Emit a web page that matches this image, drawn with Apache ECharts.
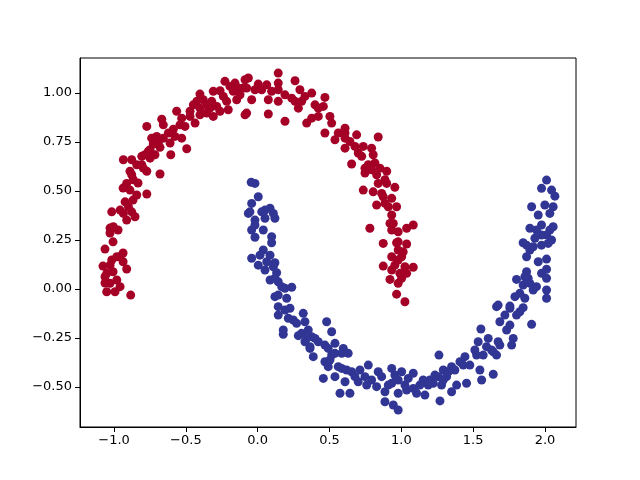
<!DOCTYPE html>
<html>
<head>
<meta charset="utf-8">
<script src="https://cdn.jsdelivr.net/npm/echarts@6/dist/echarts.min.js"></script>
<style>
  html, body { margin: 0; padding: 0; background: #fff; }
  #chart { width: 640px; height: 480px; }
</style>
</head>
<body>
<div id="chart"></div>
<script>
// upper moon (class 0)
var redMoon = [
  [-0.912,0.539],[-0.833,0.541],[-0.937,0.515],[-0.772,0.485],[-0.923,0.445],[-0.868,0.454],
  [-1.016,0.394],[-0.958,0.403],[-0.877,0.394],[-0.854,0.369],[-0.912,0.352],[-1.028,0.311],
  [-0.972,0.301],[-1.028,0.286],[-1.007,0.241],[-1.063,0.204],[-0.937,0.184],[-0.981,0.165],
  [-1.016,0.148],[-1.077,0.117],[-0.937,0.139],[-0.912,0.102],[-1.007,0.088],[-1.063,0.063],
  [-0.981,0.046],[-1.063,0.031],[-0.958,0.012],[-1.051,-0.014],[-0.993,-0.014],[-0.884,-0.031],
  [-0.889,0.505],[-0.842,0.480],[-0.900,0.420],[-0.935,0.386],[-1.005,0.318],[-0.958,0.165],
  [-1.028,0.122],[-1.051,0.080],[-1.028,0.029],
  [-0.228,1.060],[-0.158,1.051],[-0.088,1.068],[-0.100,1.026],[-0.309,1.009],[-0.262,1.012],
  [-0.402,0.995],[-0.170,1.009],[-0.123,0.991],[-0.379,0.966],[-0.320,0.958],[-0.216,0.958],
  [-0.146,0.966],[-0.448,0.940],[-0.402,0.923],[-0.285,0.932],[-0.262,0.907],[-0.205,0.915],
  [-0.088,0.889],[-0.564,0.907],[-0.471,0.907],[-0.355,0.898],[-0.309,0.881],[-0.529,0.872],
  [-0.668,0.867],[-0.436,0.847],[-0.506,0.830],[-0.772,0.830],[-0.657,0.838],[-0.587,0.816],
  [-0.703,0.779],[-0.657,0.770],[-0.529,0.770],[-0.576,0.779],[-0.727,0.740],[-0.610,0.745],
  [-0.494,0.716],[-0.749,0.711],[-0.680,0.723],[-0.784,0.685],[-0.715,0.685],[-0.605,0.685],
  [-0.935,0.660],[-0.877,0.660],[-0.807,0.634],[-0.749,0.668],[-0.772,0.601],[-0.680,0.587],
  [-0.877,0.583],[-0.866,0.558],
  [-0.424,0.958],[-0.355,0.940],[-0.239,0.983],[-0.193,1.034],[-0.135,1.026],[-0.471,0.881],
  [-0.402,0.889],[-0.332,0.923],[-0.541,0.838],[-0.622,0.796],[-0.692,0.745],[-0.738,0.770],
  [-0.761,0.703],[-0.807,0.677],[-0.796,0.617],[-0.842,0.634],[-0.889,0.601],
  [0.143,1.102],[-0.065,1.077],[0.004,1.046],[0.063,1.042],[0.143,1.051],[0.260,1.063],
  [-0.077,1.026],[-0.019,1.017],[0.097,1.009],[0.143,1.017],[0.294,1.017],[0.376,1.000],
  [0.074,0.966],[0.143,0.958],[-0.042,0.966],[0.237,0.974],[0.306,0.958],[0.468,0.978],
  [0.399,0.940],[0.457,0.932],[0.283,0.923],[-0.077,0.898],[0.074,0.893],[0.190,0.856],
  [0.341,0.847],[0.422,0.881],[0.503,0.881],[0.515,0.847],[0.468,0.796],[0.538,0.762],
  [0.608,0.821],[0.608,0.770],[0.689,0.787],[0.839,0.776],[0.608,0.719],[0.677,0.728],
  [0.735,0.728],[0.793,0.719],[0.804,0.685],[0.724,0.677],[0.654,0.638],[0.770,0.634],
  [0.816,0.643],[0.747,0.592],[0.828,0.583],[0.898,0.601],[0.886,0.558],
  [0.028,1.017],[0.190,0.991],[0.260,0.958],[0.329,0.983],[0.422,0.923],[0.376,0.872],
  [0.561,0.796],[0.608,0.796],[0.642,0.753],[0.700,0.694],[0.747,0.617],[0.793,0.609],
  [0.851,0.617],
  [0.735,0.505],[0.804,0.496],[0.839,0.539],[0.898,0.539],[0.955,0.519],[0.874,0.471],
  [0.933,0.463],[0.828,0.429],[0.909,0.420],[0.967,0.420],[0.933,0.378],[0.921,0.335],
  [0.781,0.310],[0.933,0.301],[0.978,0.292],[1.037,0.310],[1.083,0.327],[0.874,0.233],
  [0.967,0.236],[1.037,0.230],[0.978,0.199],[0.933,0.165],[1.002,0.165],[0.874,0.117],
  [0.955,0.122],[1.025,0.114],[1.083,0.111],[0.990,0.080],[0.921,0.049],[1.002,0.055],
  [0.978,0.029],[0.967,-0.026],[1.025,-0.065],
  [0.863,0.488],[0.886,0.437],[0.944,0.335],[0.978,0.241],[1.013,0.190],[0.978,0.148],
  [0.933,0.097],[1.037,0.080]
];

// lower moon (class 1)
var blueMoon = [
  [-0.019,0.539],[-0.045,0.545],[0.004,0.471],[-0.042,0.437],[-0.065,0.386],[0.028,0.394],
  [0.086,0.412],[0.120,0.361],[-0.019,0.352],[0.051,0.361],[-0.042,0.301],[0.039,0.301],
  [0.097,0.267],[-0.019,0.264],[0.097,0.236],[0.039,0.199],[-0.042,0.157],[0.086,0.173],
  [0.004,0.122],[0.120,0.134],[0.051,0.097],[0.132,0.083],[0.086,0.046],[0.143,0.037],
  [0.190,0.004],[0.237,0.009],[0.120,-0.039],[0.202,-0.047],
  [-0.054,0.394],[0.051,0.403],[0.109,0.386],[-0.019,0.327],[0.016,0.173],[0.063,0.139],
  [0.109,0.114],[0.120,0.055],[0.167,0.012],[0.143,-0.031],
  [0.143,-0.090],[0.225,-0.098],[0.143,-0.133],[0.213,-0.149],[0.317,-0.124],[0.271,-0.175],
  [0.329,-0.167],[0.480,-0.167],[0.178,-0.209],[0.178,-0.231],[0.352,-0.209],[0.283,-0.238],
  [0.515,-0.218],[0.399,-0.252],[0.329,-0.269],[0.468,-0.286],[0.538,-0.277],[0.364,-0.303],
  [0.596,-0.303],[0.387,-0.345],[0.538,-0.328],[0.630,-0.328],[0.468,-0.371],[0.491,-0.396],
  [0.585,-0.405],[0.654,-0.422],[0.712,-0.413],[0.770,-0.388],[0.839,-0.422],[0.933,-0.405],
  [1.002,-0.422],[0.457,-0.456],[0.538,-0.447],[0.608,-0.473],[0.700,-0.473],[0.759,-0.490],
  [0.828,-0.498],[0.933,-0.481],[1.048,-0.456],[0.886,-0.524],[0.978,-0.532],[1.037,-0.515],
  [0.573,-0.532],[0.642,-0.532],[0.886,-0.575],[0.944,-0.592],[0.978,-0.617],
  [0.306,-0.226],[0.376,-0.243],[0.341,-0.252],[0.422,-0.269],[0.491,-0.303],[0.515,-0.337],
  [0.585,-0.328],[0.503,-0.362],[0.561,-0.396],[0.619,-0.413],[0.677,-0.447],[0.747,-0.447],
  [0.793,-0.464],[0.863,-0.447],[0.909,-0.490],[0.978,-0.464],[1.025,-0.490],[0.955,-0.439],
  [0.248,-0.158],[0.190,-0.107],[0.364,-0.294],
  [1.663,-0.090],[1.756,-0.098],[1.848,-0.095],[1.802,-0.133],[1.686,-0.167],[1.907,-0.180],
  [1.733,-0.209],[1.554,-0.204],[1.779,-0.252],[1.768,-0.286],[1.605,-0.252],[1.535,-0.269],
  [1.686,-0.286],[1.512,-0.311],[1.628,-0.311],[1.570,-0.337],[1.663,-0.337],[1.262,-0.337],
  [1.443,-0.345],[1.408,-0.371],[1.350,-0.396],[1.477,-0.388],[1.547,-0.413],[1.292,-0.413],
  [1.640,-0.435],[1.083,-0.430],[1.234,-0.439],[1.315,-0.447],[1.152,-0.464],[1.559,-0.464],
  [1.187,-0.490],[1.280,-0.490],[1.385,-0.490],[1.454,-0.481],[1.106,-0.532],[1.164,-0.541],
  [1.350,-0.524],[1.269,-0.571],
  [1.825,-0.116],[1.721,-0.133],[1.756,-0.184],[1.674,-0.269],[1.593,-0.294],[1.640,-0.320],
  [1.524,-0.337],[1.431,-0.388],[1.373,-0.413],[1.327,-0.422],[1.257,-0.447],[1.199,-0.464],
  [1.129,-0.490],[1.292,-0.464],[1.222,-0.481],[1.083,-0.507],
  [2.011,0.556],[1.976,0.514],[2.046,0.505],[2.069,0.474],[1.907,0.420],[1.999,0.429],
  [2.057,0.420],[1.953,0.378],[1.895,0.310],[1.976,0.327],[2.057,0.318],[1.930,0.259],
  [2.011,0.276],[2.046,0.250],[1.848,0.236],[1.895,0.199],[1.976,0.224],[2.022,0.233],
  [1.872,0.165],[1.953,0.139],[2.011,0.153],[1.872,0.088],[2.011,0.101],[1.976,0.080],
  [1.802,0.049],[1.883,0.055],[2.011,0.055],[1.848,0.020],[1.918,-0.005],[2.011,-0.005],
  [1.791,-0.039],[1.860,-0.047],[2.011,-0.047],[1.674,-0.082],[1.756,-0.087],
  [2.034,0.386],[1.976,0.276],[1.941,0.301],[2.034,0.301],[1.872,0.224],[1.918,0.216],
  [1.860,0.063],[1.895,0.029],[1.941,0.012],[1.825,-0.022]
];

var xTicks = [-1.0, -0.5, 0.0, 0.5, 1.0, 1.5, 2.0];
var yTicks = [-0.5, -0.25, 0.0, 0.25, 0.5, 0.75, 1.0];

function fmt(v, d) {
  return v.toFixed(d).replace('-', '\u2212');
}

var myChart = echarts.init(document.getElementById('chart'));
var axisCommon = {
  axisLine: { show: true, onZero: false, lineStyle: { color: '#000', width: 1 } },
  axisTick: { show: true, inside: false, length: 5, lineStyle: { color: '#000', width: 1 } },
  splitLine: { show: false }
};
var option = {
  animation: false,
  grid: {
    left: 80, right: 64, top: 58, bottom: 53,
    show: true, borderColor: '#000', borderWidth: 1, backgroundColor: '#fff'
  },
  xAxis: Object.assign({
    type: 'value',
    min: -1.237,
    max: 2.216,
    axisLabel: {
      customValues: xTicks,
      formatter: function (v) { return fmt(v, 1); },
      fontFamily: 'DejaVu Sans', fontSize: 13, color: '#000', margin: 7
    }
  }, axisCommon, { axisTick: Object.assign({ customValues: xTicks }, axisCommon.axisTick) }),
  yAxis: Object.assign({
    type: 'value',
    min: -0.704,
    max: 1.179,
    axisLabel: {
      customValues: yTicks,
      formatter: function (v) { return fmt(v, 2); },
      fontFamily: 'DejaVu Sans', fontSize: 13, color: '#000', margin: 8
    }
  }, axisCommon, { axisTick: Object.assign({ customValues: yTicks }, axisCommon.axisTick) }),
  series: [
    {
      type: 'scatter',
      data: redMoon,
      symbolSize: 9,
      itemStyle: { color: '#a50026', opacity: 1 }
    },
    {
      type: 'scatter',
      data: blueMoon,
      symbolSize: 9,
      itemStyle: { color: '#313695', opacity: 1 }
    }
  ]
};
myChart.setOption(option);
</script>
</body>
</html>
